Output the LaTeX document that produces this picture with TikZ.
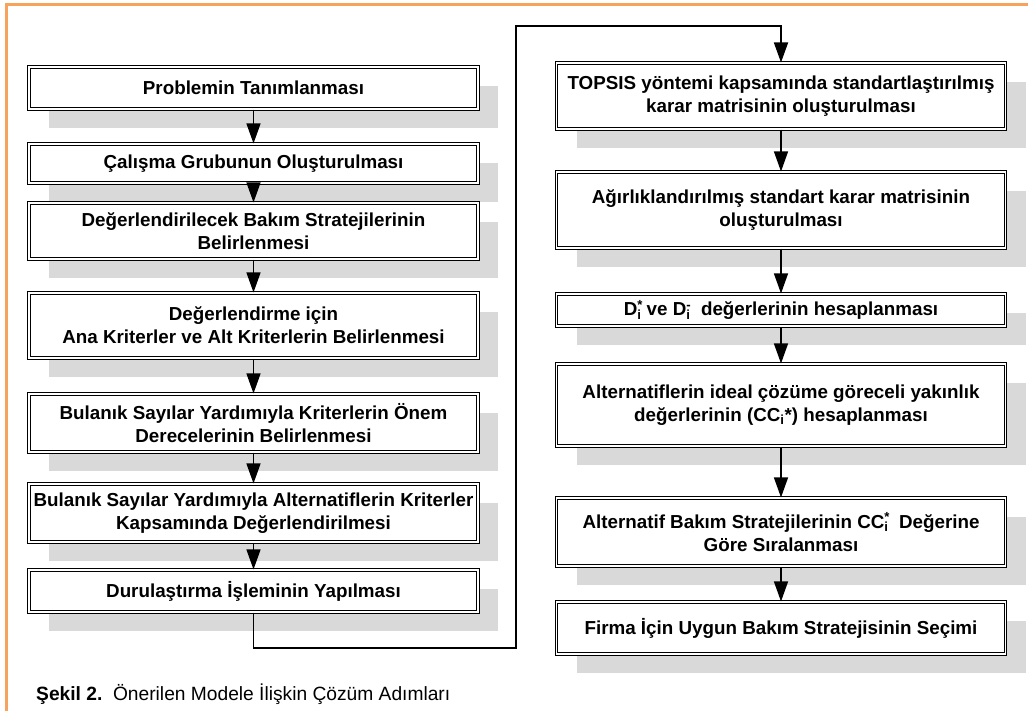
\documentclass[tikz,border=0pt]{standalone}
\usepackage{fontspec}
\setmainfont{Liberation Sans}
\usetikzlibrary{arrows.meta,shadows}
\definecolor{frameorange}{HTML}{F7A35C}
\definecolor{shadowgray}{HTML}{D9D9D9}
\newcommand{\supsub}[2]{\rlap{\textsuperscript{#1}}\textsubscript{#2}}
\begin{document}
\begin{tikzpicture}[x=1pt,y=-1pt,
  stepbox/.style={draw=black, double=white, double distance=1.1pt, line width=1.1pt,
    fill=white, minimum width=449pt, align=center, inner sep=0pt,
    font=\bfseries\fontsize{18.8}{23}\selectfont,
    drop shadow={shadow xshift=20pt, shadow yshift=-19pt, fill=shadowgray, opacity=1, draw=none}},
  flow/.style={line width=1.3pt, -{Triangle[length=20pt,width=14pt]}},
  link/.style={line width=1.8pt, -{Triangle[length=20pt,width=14pt]}}]
\useasboundingbox (0,0) rectangle (1028,711);
\fill[white] (0,0) rectangle (1028,711);
\draw[frameorange, line width=3pt] (6.7,711) -- (6.7,5) -- (1028,5);

% left column
\node[stepbox, minimum height=42pt] (b1) at (253.5,88) {Problemin Tanımlanması};
\node[stepbox, minimum height=39pt] (b2) at (253.5,163.5) {Çalışma Grubunun Oluşturulması};
\node[stepbox, minimum height=56pt] (b3) at (253.5,231) {Değerlendirilecek Bakım Stratejilerinin\\Belirlenmesi};
\node[stepbox, minimum height=65pt] (b4) at (253.5,325.5) {Değerlendirme için\\Ana Kriterler ve Alt Kriterlerin Belirlenmesi};
\node[stepbox, minimum height=58pt] (b5) at (253.5,423) {Bulanık Sayılar Yardımıyla Kriterlerin Önem\\Derecelerinin Belirlenmesi};
\node[stepbox, minimum height=58pt] (b6) at (253.5,513) {Bulanık Sayılar Yardımıyla Alternatiflerin Kriterler\\Kapsamında Değerlendirilmesi};
\node[stepbox, minimum height=42pt] (b7) at (253.5,591) {Durulaştırma İşleminin Yapılması};

% right column
\node[stepbox, minimum height=66pt] (r1) at (781,96) {TOPSIS yöntemi kapsamında standartlaştırılmış\\karar matrisinin oluşturulması};
\node[stepbox, minimum height=76pt] (r2) at (781,210) {Ağırlıklandırılmış standart karar matrisinin\\oluşturulması};
\node[stepbox, minimum height=32pt] (r3) at (781,310) {D\supsub{*}{i} ve D\supsub{-}{i}\ \ değerlerinin hesaplanması};
\node[stepbox, minimum height=82pt] (r4) at (781,405) {Alternatiflerin ideal çözüme göreceli yakınlık\\değerlerinin (CC\textsubscript{i}*) hesaplanması};
\node[stepbox, minimum height=68pt] (r5) at (781,532) {Alternatif Bakım Stratejilerinin CC\supsub{*}{i}\ \ Değerine\\Göre Sıralanması};
\node[stepbox, minimum height=52pt] (r6) at (781,628) {Firma İçin Uygun Bakım Stratejisinin Seçimi};

% connectors
\draw[flow] (b1) -- (b2);
\draw[flow] (b2) -- (b3);
\draw[flow] (b3) -- (b4);
\draw[flow] (b4) -- (b5);
\draw[flow] (b5) -- (b6);
\draw[flow] (b6) -- (b7);
\draw[flow] (r1) -- (r2);
\draw[flow] (r2) -- (r3);
\draw[flow] (r3) -- (r4);
\draw[flow] (r4) -- (r5);
\draw[flow] (r5) -- (r6);
\coordinate (c1) at (516,648);
\coordinate (c2) at (516,26);
\draw[link] (b7.south) |- (c1) -- (c2) -| (r1.north);

% caption
\node[anchor=base west, inner sep=0pt, font=\fontsize{19.2}{23}\selectfont] (cap) at (36,700)
  {\textbf{Şekil 2.}\ \ Önerilen Modele İlişkin Çözüm Adımları};
\end{tikzpicture}
\end{document}
